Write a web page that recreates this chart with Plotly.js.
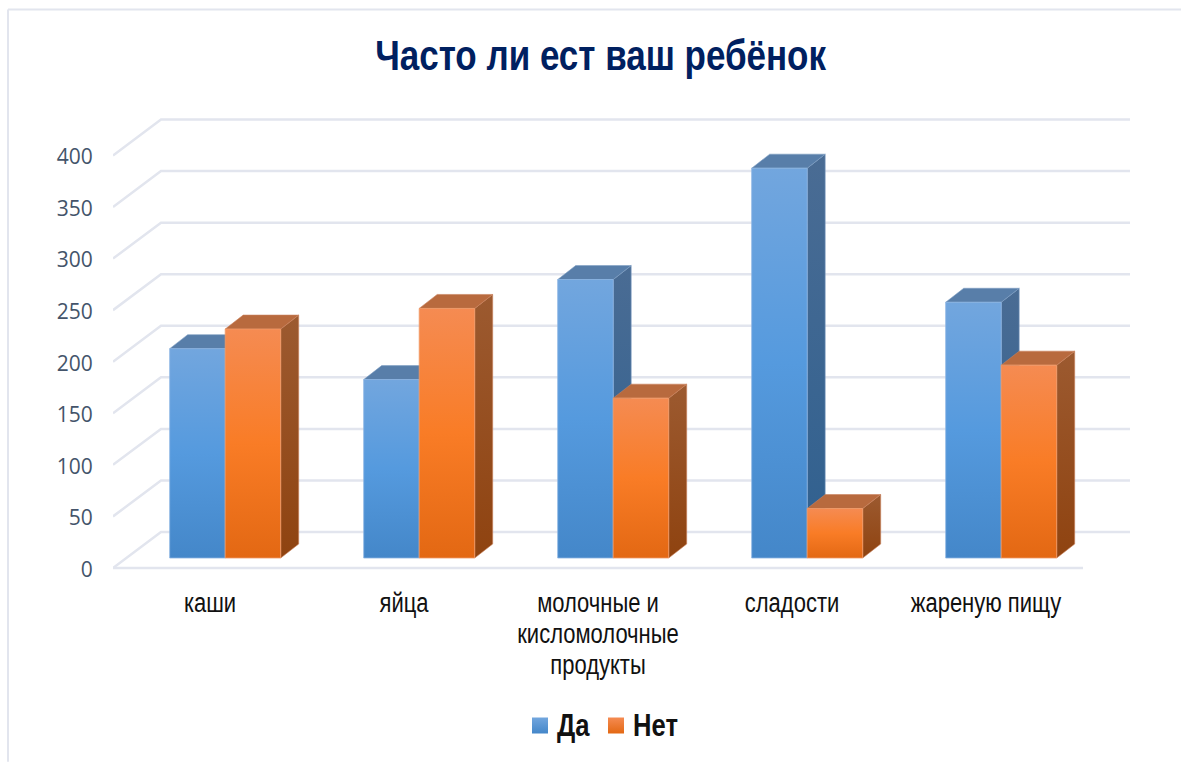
<!DOCTYPE html>
<html><head><meta charset="utf-8">
<script src="https://cdn.plot.ly/plotly-3.0.1.min.js"></script>
<style>html,body{margin:0;padding:0;background:#fff;overflow:hidden}#c{width:1181px;height:762px}</style>
</head><body><div id="c"></div>
<script>
const categories = ['каши','яйца','молочные и<br>кисломолочные<br>продукты','сладости','жареную пищу'];
const da = [203,173,270,378,248];
const net = [222,242,155,48,187];
const yTicks = [0,50,100,150,200,250,300,350,400];
const title = 'Часто ли ест ваш ребёнок';

const W=1181,H=762,L=113,R=1130,T=116.5,Y0=568,B=570;
const pxX=194, pxY=1.0325;
const xMin=-0.5, xMax=xMin+(R-L)/pxX, yMin=(Y0-B)/pxY, yMax=(Y0-T)/pxY;
const wallDX=48/pxX, wallDY=36/pxY, floorEnd=4.5;
const barW=55.5/pxX, barShift=15.2/pxX, barBase=10/pxY, depthX=18/pxX, depthY=14/pxY;

const grid='#e2e5ee';
const traces=[];
function noHover(t){t.hoverinfo='skip';t.showlegend=false;return t;}
yTicks.forEach(v=>{
  traces.push(noHover({type:'scatter',mode:'lines',
    x:[xMin,xMin+wallDX,xMax],y:[v,v+wallDY,v+wallDY],
    line:{color:grid,width:2.5},cliponaxis:false}));
});
traces.push(noHover({type:'scatter',mode:'lines',x:[xMin,floorEnd],y:[0,0],line:{color:grid,width:2.5},cliponaxis:false}));

const pal={
  da:{front:[[0,'#4487c9'],[0.5,'#559ade'],[1,'#72a6de']],side:[[0,'#2f608f'],[1,'#4a6c94']],top:'#587ea9',edge:'#8ab4e2',edge3:'#7d9dc2'},
  net:{front:[[0,'#e36813'],[0.5,'#f97c26'],[1,'#f58b52']],side:[[0,'#8f4310'],[1,'#9c5a30']],top:'#b86a3e',edge:'#f09a68',edge3:'#c9825c'}
};
function poly(xs,ys,fill,edge,w){
  const t={type:'scatter',mode:'lines',x:xs.concat(xs[0]),y:ys.concat(ys[0]),fill:'toself',
    line:{color:edge,width:w},cliponaxis:false};
  if(Array.isArray(fill)) t.fillgradient={type:'vertical',colorscale:fill};
  else t.fillcolor=fill;
  return noHover(t);
}
function bar(x0,v,p){
  const x1=x0+barW, b=barBase, t=barBase+v;
  traces.push(poly([x1,x1+depthX,x1+depthX,x1],[b,b+depthY,t+depthY,t],p.side,p.edge3,0.6));
  traces.push(poly([x0,x0+depthX,x1+depthX,x1],[t,t+depthY,t+depthY,t],p.top,p.edge3,0.6));
  traces.push(poly([x0,x1,x1,x0],[b,b,t,t],p.front,p.edge,0.8));
}
categories.forEach((c,i)=>{
  const x0=i+barShift-barW;
  bar(x0,da[i],pal.da);
  bar(x0+barW,net[i],pal.net);
});
traces.push({type:'scatter',mode:'markers',name:'Да',x:[null],y:[null],hoverinfo:'skip',
  marker:{symbol:'square',size:18,color:'#72a6de',gradient:{type:'vertical',color:'#4487c9'}}});
traces.push({type:'scatter',mode:'markers',name:'Нет',x:[null],y:[null],hoverinfo:'skip',
  marker:{symbol:'square',size:18,color:'#f58b52',gradient:{type:'vertical',color:'#e36813'}}});

const pw=R-L, ph=B-T;
const px=x=>(x-L)/pw, py=y=>(B-y)/ph;
const sans='"Liberation Sans",Arial,sans-serif';
const layout={
  width:W,height:H,margin:{l:L,r:W-R,t:T,b:H-B,pad:0},
  paper_bgcolor:'#fff',plot_bgcolor:'rgba(0,0,0,0)',
  title:{text:'<b>'+title+'</b>',font:{family:sans,size:42,color:'#002060'},
    xref:'container',yref:'container',x:600.5/W,y:1-55/H,xanchor:'center',yanchor:'middle'},
  xaxis:{range:[xMin,xMax],tickmode:'array',tickvals:categories.map((c,i)=>i),ticktext:categories,
    showgrid:false,zeroline:false,showline:false,ticks:'outside',ticklen:9,tickcolor:'rgba(0,0,0,0)',
    tickfont:{family:sans,size:27,color:'#111'},tickangle:0,fixedrange:true},
  yaxis:{range:[yMin,yMax],tickmode:'array',tickvals:yTicks,ticktext:yTicks.map(String),
    showgrid:false,zeroline:false,showline:false,ticks:'outside',ticklen:15,tickcolor:'rgba(0,0,0,0)',
    tickfont:{family:'"Open Sans",sans-serif',size:21,color:'#44546a'},fixedrange:true},
  legend:{orientation:'h',x:520/W,xref:'container',xanchor:'left',yref:'container',y:1-700/H,yanchor:'top',
    font:{family:sans,size:32,color:'#111',weight:'bold'},bgcolor:'rgba(0,0,0,0)',itemclick:false,itemdoubleclick:false},
  shapes:[
    {type:'line',xref:'paper',yref:'paper',x0:px(8),x1:px(1181),y0:py(9),y1:py(9),line:{color:grid,width:2},layer:'below'},
    {type:'line',xref:'paper',yref:'paper',x0:px(8),x1:px(8),y0:py(9),y1:py(762),line:{color:grid,width:2},layer:'below'}
  ],
  showlegend:true
};
const narrowFactor={title:0.833,tick:0.815,legend:0.8};
const lineStep=31, legendSwatch=[532,608], legendText=[557,633], legendMidY=725.5, legendTextLift=-2;
function squeeze(el,f,anchor){
  const b=el.getBBox(), cx=anchor==='left'?b.x:b.x+b.width/2;
  const old=el.getAttribute('transform')||'';
  el.setAttribute('transform',old+' translate('+cx+',0) scale('+f+',1) translate('+(-cx)+',0)');
}
function shift(el,dx,dy){
  const old=el.getAttribute('transform')||'';
  el.setAttribute('transform','translate('+dx+','+dy+') '+old);
}
Plotly.newPlot('c',traces,layout,{displayModeBar:false,responsive:false}).then(gd=>{
  gd.querySelectorAll('.gtitle').forEach(e=>squeeze(e,narrowFactor.title,'center'));
  gd.querySelectorAll('.xtick text').forEach(e=>{
    e.querySelectorAll('tspan.line').forEach((t,i)=>t.setAttribute('dy',(i*lineStep)+'px'));
    squeeze(e,narrowFactor.tick,'center');
  });
  gd.querySelectorAll('.ytick text').forEach(e=>shift(e,0,1.5));
  gd.querySelectorAll('.legend .traces').forEach((g,i)=>{
    const sw=g.querySelector('.legendpoints path');
    const r=sw.getBoundingClientRect();
    shift(g,legendSwatch[i]-r.left,legendMidY-(r.top+r.height/2));
    const tx=g.querySelector('.legendtext');
    squeeze(tx,narrowFactor.legend,'left');
    shift(tx,legendText[i]-tx.getBoundingClientRect().left,legendTextLift);
  });
});
</script></body></html>
